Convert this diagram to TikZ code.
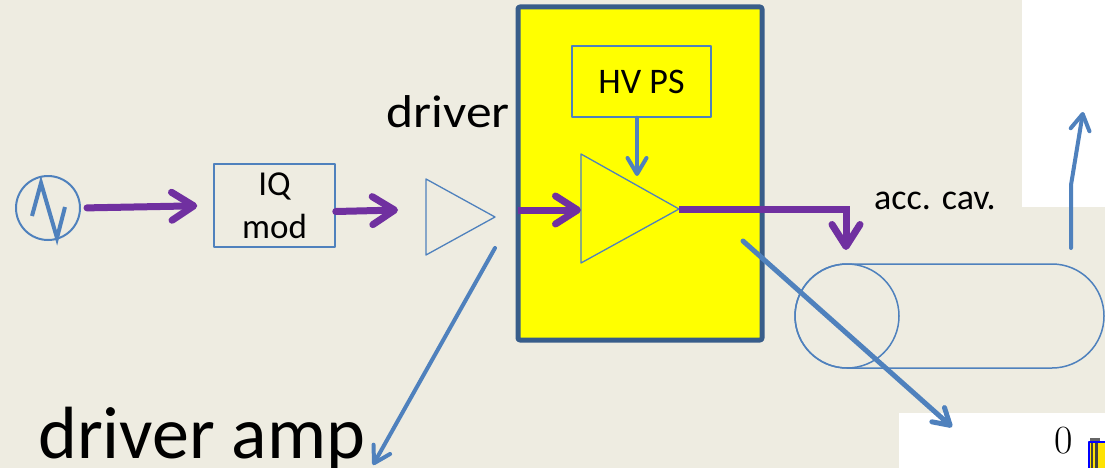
\documentclass[tikz,border=0pt]{standalone}
\usepackage{fontspec}
\setmainfont{Carlito}
\newfontfamily\lmfont{Latin Modern Roman}
\usetikzlibrary{arrows.meta,shapes.misc}
\definecolor{bg}{RGB}{238,236,225}
\definecolor{lblue}{RGB}{79,129,189}
\definecolor{dblue}{RGB}{56,93,138}
\definecolor{purp}{RGB}{112,48,160}
\definecolor{hpyellow}{RGB}{255,255,0}
\begin{document}
\begin{tikzpicture}[x=1pt, y=-1pt, line join=round, line cap=round,
    box/.style={draw=lblue, line width=1.5pt, inner sep=0pt},
    rf/.style={purp, line width=7pt, -{Straight Barb[length=22pt, width=28pt, round]}},
    sig/.style={lblue, line width=4pt, -{Straight Barb[length=16pt, width=19pt, round]}}]
    \useasboundingbox (0,0) rectangle (1105,468);
    \clip (0,0) rectangle (1105,468);
    \fill[bg] (0,0) rectangle (1105,468);
    \fill[white] (1022,0) rectangle (1105,207);
    \fill[white] (899,413) rectangle (1105,468);
    % source and IQ modulator
    \node[box, line width=2pt, circle, minimum size=64pt] (src) at (48,208) {};
    \draw[lblue, line width=4pt, line cap=butt, line join=miter] (32,216) -- (41,183) -- (57,238) -- (65,207);
    \node[box, minimum width=121pt, minimum height=83pt, align=center,
        font=\fontsize{35}{43}\selectfont] (iq) at (274.5,205.5) {IQ\\mod};
    \draw[rf, shorten <=6pt, shorten >=16pt] (src.east) -- (iq.west);
    % driver
    \coordinate (drvT) at (426,179);
    \coordinate (drvB) at (426,255);
    \coordinate (drvP) at (495,217);
    \coordinate (drvin) at (398,210);
    \draw[lblue, line width=1.3pt] (drvT) -- (drvP) -- (drvB) -- cycle;
    \draw[rf] (iq.east) ++(0,6) -- (drvin);
    \node[font=\fontsize{46}{50}\selectfont, xscale=1.12, anchor=base, inner sep=0pt] (drvlabel) at (448,128) {driver};
    % klystron box
    \node[draw=dblue, fill=hpyellow, line width=5pt, rounded corners=2pt,
        minimum width=244pt, minimum height=333pt] (hpa) at (640,173.5) {};
    \node[box, minimum width=139pt, minimum height=71pt, font=\fontsize{36}{40}\selectfont] (hv) at (641.5,81.5) {HV PS};
    \coordinate (ampT) at (581,154);
    \coordinate (ampB) at (581,263);
    \coordinate (ampP) at (679,209);
    \coordinate (ampW) at (581,210);
    \coordinate (ampin) at (637,176);
    \draw[lblue, line width=1.3pt] (ampT) -- (ampP) -- (ampB) -- cycle;
    \draw[sig] (hv.south -| ampin) -- (ampin);
    \draw[rf, line cap=butt, shorten <=2pt] (hpa.west |- ampW) -- (ampW);
    % cavity
    \node[box, rounded rectangle, minimum width=309pt, minimum height=104pt] (cav) at (949.5,316) {};
    \node[box, circle, minimum size=104pt] (cell) at (847,316) {};
    \coordinate (cavin) at (846,250);
    \draw[rf, line cap=butt, line join=miter] (ampP) -- (ampP -| cavin) -- (cavin);
    \node[font=\fontsize{36}{40}\selectfont, anchor=west, inner sep=0pt] (cavlabel) at (874,201) {acc. cav.};
    \coordinate (fwd0) at (1071,248);
    \coordinate (fwd1) at (1071,185);
    \coordinate (fwd2) at (1083,112);
    \draw[sig] (fwd0) -- (fwd1) -- (fwd2);
    % labels and pointers
    \node[font=\fontsize{74}{80}\selectfont, anchor=base west, inner sep=0pt] (amplabel) at (38,458) {driver amp};
    \coordinate (drvtail) at (495,248);
    \coordinate (drvtip) at (373,465);
    \draw[sig] (drvtail) -- (drvtip);
    \coordinate (hpatail) at (743,241);
    \coordinate (hpatip) at (952,427);
    \draw[sig, line width=5pt] (hpatail) -- (hpatip);
    \node[font=\lmfont\fontsize{40}{44}\selectfont, anchor=base, inner sep=0pt] (zero) at (1064,453) {0};
    \fill[black!60] (1090,438) rectangle (1100,442);
    \draw[blue, line width=1.2pt, fill=yellow!85!orange] (1089,442) rectangle (1112,472);
    \fill[black!75] (1091,443) rectangle (1093,470);
    \fill[black!75] (1095,443) rectangle (1098,470);
\end{tikzpicture}
\end{document}
